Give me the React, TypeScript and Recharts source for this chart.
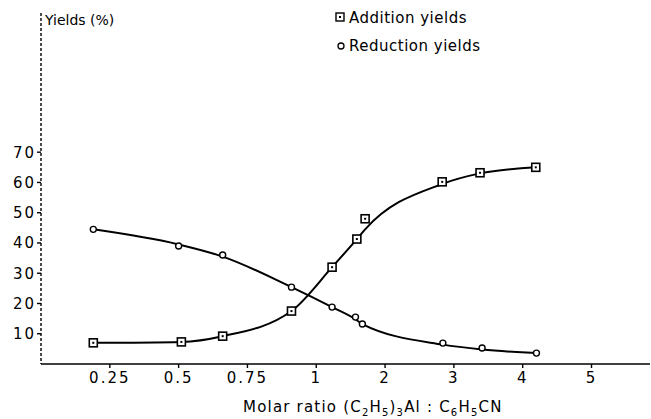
import React from 'react';
import { ComposedChart, Line, Scatter, XAxis, YAxis } from 'recharts';

// x axis is drawn with equal spacing per labelled tick: 0.25 .. 1 in quarter steps, then 2 .. 5
const ratioTicks = [0.25, 0.5, 0.75, 1, 2, 3, 4, 5];
const ratioLabels = ['0.25', '0.5', '0.75', '1', '2', '3', '4', '5'];
const yieldTicks = [10, 20, 30, 40, 50, 60, 70];

const additionRatio = [0.19, 0.51, 0.66, 0.91, 1.23, 1.59, 1.71, 2.83, 3.38, 4.19];
const additionYield = [7, 7.3, 9.2, 17.5, 32, 41.3, 48, 60.2, 63.2, 65];
const additionCurve = [7, 7.3, 9.2, 17.5, 32, 41.3, 44.5, 59.5, 63, 65];

const reductionRatio = [0.19, 0.5, 0.66, 0.91, 1.23, 1.57, 1.67, 2.84, 3.41, 4.2];
const reductionYield = [44.5, 39, 36, 25.4, 18.8, 15.5, 13.2, 6.9, 5.3, 3.6];
const reductionCurve = [44.5, 39.5, 35.5, 25.4, 18.8, 14.8, 13.2, 6.4, 4.8, 3.6];

const toPos = (r: number) => (r <= 1 ? r / 0.25 : r + 3);

const build = (xs: number[], ys: number[]) => xs.map((r, i) => ({ p: toPos(r), y: ys[i] }));

const addPts = build(additionRatio, additionYield);
const addLine = build(additionRatio, additionCurve);
const redPts = build(reductionRatio, reductionYield);
const redLine = build(reductionRatio, reductionCurve);

const font = '"DejaVu Sans", sans-serif';

const SquareDot = (props: any) => {
  const { cx, cy } = props;
  return (
    <g>
      <rect x={cx - 4} y={cy - 4} width={8} height={8} fill="#fff" stroke="#000" strokeWidth={1.6} />
      <rect x={cx - 1} y={cy - 1} width={2} height={2} fill="#000" />
    </g>
  );
};

const CircleDot = (props: any) => {
  const { cx, cy } = props;
  return <circle cx={cx} cy={cy} r={3} fill="#fff" stroke="#000" strokeWidth={1.4} />;
};

export default function App() {
  const tickLabel = (v: number) => {
    const i = ratioTicks.findIndex((r) => Math.abs(toPos(r) - v) < 1e-6);
    return i >= 0 ? ratioLabels[i] : '';
  };

  return (
    <div style={{ position: 'absolute', left: 0, top: 0, width: 651, height: 419, background: '#fff' }}>
      <ComposedChart width={651} height={419} margin={{ top: 13, right: 1, bottom: 25, left: 0 }}>
        <XAxis
          type="number"
          dataKey="p"
          domain={[0, 8.85]}
          ticks={ratioTicks.map(toPos)}
          tickFormatter={tickLabel}
          height={30}
          tickSize={4}
          tickMargin={4}
          axisLine={{ stroke: '#000', strokeWidth: 1.6 }}
          tickLine={{ stroke: '#000', strokeWidth: 1.4 }}
          tick={{ fill: '#000', fontSize: 15, fontFamily: font, letterSpacing: 2 }}
          allowDataOverflow
        />
        <YAxis
          type="number"
          dataKey="y"
          domain={[0, 116]}
          ticks={yieldTicks}
          width={41}
          tickSize={4}
          tickMargin={1}
          axisLine={{ stroke: '#000', strokeWidth: 1.4, strokeDasharray: '3 2' }}
          tickLine={{ stroke: '#000', strokeWidth: 1.4 }}
          tick={{ fill: '#000', fontSize: 15, fontFamily: font, letterSpacing: 2 }}
          allowDataOverflow
        />
        <Line data={addLine} dataKey="y" type="monotone" stroke="#000" strokeWidth={2} dot={false} activeDot={false} isAnimationActive={false} />
        <Line data={redLine} dataKey="y" type="monotone" stroke="#000" strokeWidth={2} dot={false} activeDot={false} isAnimationActive={false} />
        <Scatter data={addPts} dataKey="y" shape={SquareDot} isAnimationActive={false} />
        <Scatter data={redPts} dataKey="y" shape={CircleDot} isAnimationActive={false} />
      </ComposedChart>
      <svg width={651} height={419} style={{ position: 'absolute', left: 0, top: 0, pointerEvents: 'none' }}>
        <g fontFamily={font} fill="#000">
          <text x={45} y={25} fontSize={14}>Yields (%)</text>
          <rect x={336} y={13} width={8} height={8} fill="#fff" stroke="#000" strokeWidth={1.4} />
          <rect x={339} y={16} width={2} height={2} fill="#000" />
          <text x={349} y={23} fontSize={15} letterSpacing={0.5}>Addition yields</text>
          <circle cx={341} cy={46} r={3} fill="#fff" stroke="#000" strokeWidth={1.3} />
          <text x={349} y={51} fontSize={15} letterSpacing={0.5}>Reduction yields</text>
          <text x={243} y={412} fontSize={15} letterSpacing={1.2}>
            Molar ratio (C<tspan dy={4} fontSize={10}>2</tspan>
            <tspan dy={-4}>H</tspan><tspan dy={4} fontSize={10}>5</tspan>
            <tspan dy={-4}>)</tspan><tspan dy={4} fontSize={10}>3</tspan>
            <tspan dy={-4}>Al : C</tspan><tspan dy={4} fontSize={10}>6</tspan>
            <tspan dy={-4}>H</tspan><tspan dy={4} fontSize={10}>5</tspan>
            <tspan dy={-4}>CN</tspan>
          </text>
        </g>
      </svg>
    </div>
  );
}
